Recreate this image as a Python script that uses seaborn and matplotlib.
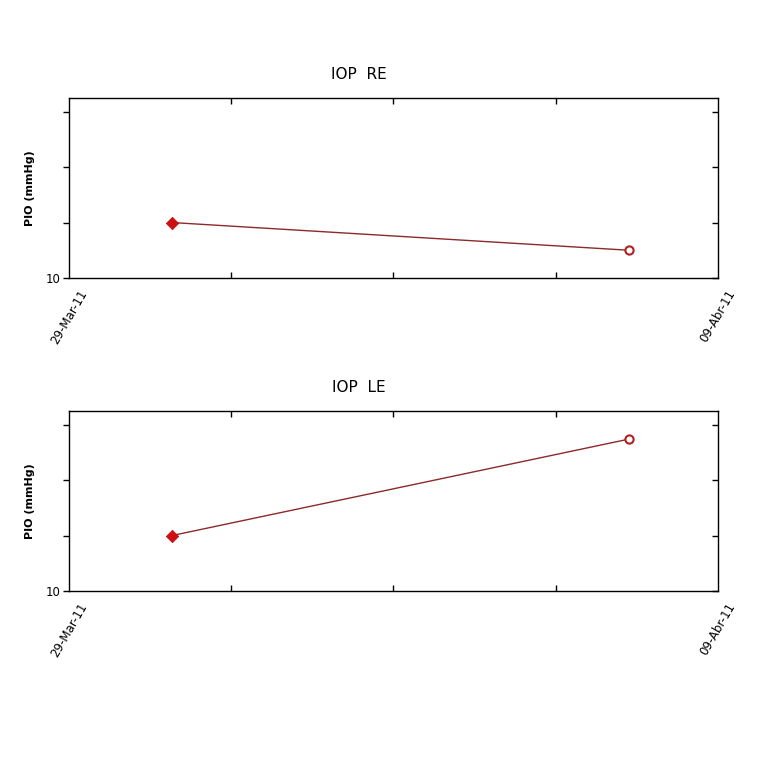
import pandas as pd
import numpy as np
import matplotlib.pyplot as plt
import matplotlib.lines as mlines
import seaborn as sns

# Data
dates = pd.to_datetime(["2011-03-30 18:00", "2011-04-07 12:00"])
iop_re = [15.0, 12.5]
iop_le = [15.0, 23.7]
x_start = pd.Timestamp("2011-03-29")
x_end = pd.Timestamp("2011-04-09")
x_labels = ["29-Mar-11", "09-Abr-11"]
y_ticks = [10, 15, 20, 25]
titles = ["IOP  RE", "IOP  LE"]

sns.set_style("white")
plt.rcParams['font.family'] = ['DejaVu Sans']
plt.rcParams['text.color'] = 'black'

fig = plt.figure(figsize=(7.68, 7.68), dpi=100)
ax_top = fig.add_axes([0.0898, 0.638, 0.845, 0.234])
ax_bot = fig.add_axes([0.0898, 0.2305, 0.845, 0.234])

line_col = "#8b2a2a"
for ax, vals, title in zip([ax_top, ax_bot], [iop_re, iop_le], titles):
    df = pd.DataFrame({"fecha": dates, "pio": vals})
    sns.lineplot(data=df, x="fecha", y="pio", ax=ax, color=line_col, linewidth=1)
    sns.scatterplot(data=df.iloc[[0]], x="fecha", y="pio", ax=ax, marker="D",
                    color="#d01010", edgecolor="#b01010", s=40, zorder=3)
    sns.scatterplot(data=df.iloc[[1]], x="fecha", y="pio", ax=ax, marker="o",
                    facecolor="white", edgecolor="#b02020", linewidth=1.5, s=35, zorder=3)
    ax.set_xlim(x_start, x_end)
    ax.set_ylim(10, 26.2)
    ax.set_yticks(y_ticks)
    ax.set_yticklabels(["10", "", "", ""], fontsize=8.5)
    ax.set_xticks([x_start, x_end])
    ax.set_xticklabels(x_labels, rotation=60, ha="center", fontsize=8.5)
    span = x_end - x_start
    ax.set_xticks([x_start + span * f for f in (0.25, 0.5, 0.75)], minor=True)
    ax.tick_params(axis="x", which="major", length=0, pad=7, labelcolor="black")
    ax.tick_params(axis="x", which="minor", direction="in", length=4, width=1,
                   top=True, bottom=True, colors="black")
    ax.tick_params(axis="y", which="both", direction="out", length=4, width=1,
                   left=True, right=True, colors="black", pad=2)
    # right-hand ticks point inward
    for t in ax.yaxis.get_major_ticks():
        t.tick2line.set_marker(mlines.TICKLEFT)
    ax.set_xlabel("")
    ax.set_ylabel("PIO (mmHg)", fontsize=8, fontweight="bold", color="black")
    ax.yaxis.set_label_coords(-0.052, 0.5)
    for s in ax.spines.values():
        s.set_color("black")
        s.set_linewidth(1)
    ax.set_title(title, fontsize=11, x=0.447, pad=14, color="black")

fig.savefig("out.png", dpi=100)
